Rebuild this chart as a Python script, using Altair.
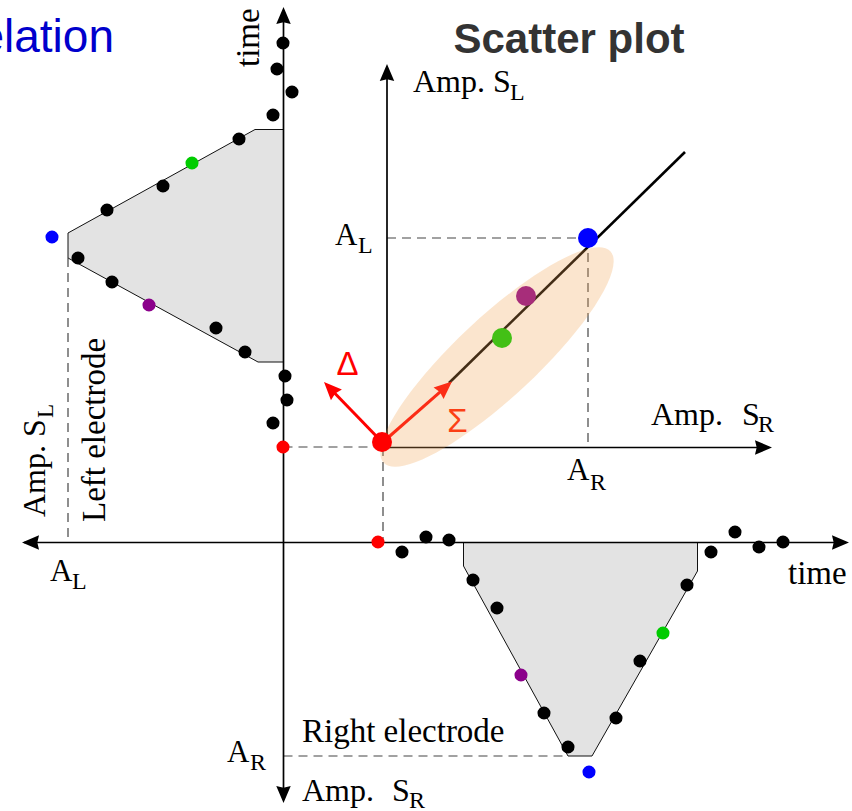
import math
import altair as alt
import pandas as pd

W, H = 852, 811

# ---------------------------------------------------------------------------
# Diagram frame: x to the right, y downward (same units on both axes)
# ---------------------------------------------------------------------------

# Left electrode: time runs up the vertical axis, amplitude S_L grows to the left
left_x = [283, 277, 292, 273, 239, 192, 163, 107, 52, 78, 112, 149, 216, 245, 285, 287, 273, 283]
left_y = [43, 69, 92, 115, 139, 163, 186, 210, 237, 258, 282, 305, 328, 352, 376, 400, 423, 447]
left_kind = ["k", "k", "k", "k", "k", "g", "k", "k", "b", "k", "k", "p", "k", "k", "k", "k", "k", "r"]

# Right electrode: time runs along the horizontal axis, amplitude S_R grows downward
right_x = [378, 402, 426, 449, 473, 497, 521, 544, 568, 589, 616, 640, 663, 687, 711, 735, 759, 783]
right_y = [542, 552, 537, 540, 580, 608, 675, 713, 747, 772, 718, 661, 633, 585, 552, 532, 547, 542]
right_kind = ["r", "k", "k", "k", "k", "k", "p", "k", "k", "b", "k", "k", "g", "k", "k", "k", "k", "k"]

# Envelopes of the two pulses (grey shaded regions)
left_env_x = [283.5, 255, 68, 68, 258, 283.5]
left_env_y = [129.5, 129.5, 233, 258, 362, 362]
right_env_x = [463.5, 463.5, 568, 592, 697.5, 697.5]
right_env_y = [542.5, 566, 756, 756, 571, 542.5]

# Scatter plot of S_L against S_R
sc_x = [382, 526, 502, 588]
sc_y = [442, 296, 338, 238]
sc_kind = ["r", "p", "g", "b"]

# Correlation ellipse (centre) and regression line
ell_x, ell_y = [497], [357]
reg_x, reg_y, reg_x2, reg_y2 = [449], [383], [685], [152]

# Principal directions from the origin of the scatter plot
arrow_name = ["Σ", "Δ"]
arrow_x0 = [383, 382]
arrow_y0 = [442, 442]
arrow_x1 = [452, 324]
arrow_y1 = [381.5, 382]

# Axis lines (x0, y0) -> (x1, y1)
axis_x0 = [283.5, 24, 387, 387]
axis_y0 = [10, 542.5, 447.5, 447.5]
axis_x1 = [283.5, 846, 387, 769]
axis_y1 = [800, 542.5, 68, 447.5]

# Arrowheads: tip position and the point the arrow comes from
tip_x = [283.5, 283.5, 22, 849, 387, 772]
tip_y = [7, 803, 542.5, 542.5, 64, 447.5]
from_x = [283.5, 283.5, 846, 24, 387, 387]
from_y = [800, 10, 542.5, 542.5, 447.5, 447.5]

# Dashed guide lines
dash_x0 = [387, 588, 283.5, 383, 68, 283.5]
dash_y0 = [238, 238, 447, 447, 258, 756]
dash_x1 = [588, 588, 382, 383, 68, 568]
dash_y1 = [238, 447, 447, 540, 542, 756]

# Serif labels
lab_text = ["time", "Amp. S", "L", "Left electrode",
            "Amp. S", "L", "A", "L",
            "Amp.", "S", "R", "A", "R",
            "A", "L", "time", "Right electrode",
            "A", "R", "Amp.", "S", "R"]
lab_x = [259, 45, 53, 105,
         413, 510, 335, 358,
         651, 742, 758, 567, 590,
         50, 72, 788, 302,
         227, 250, 302, 392, 409]
lab_y = [67, 517, 418, 522,
         92, 100, 245, 253,
         425, 425, 432, 480, 490,
         581, 589, 584, 742,
         762, 770, 801, 801, 808]
lab_size = [33, 32, 23, 33,
            32, 24, 31, 24,
            32, 32, 24, 31, 24,
            31, 24, 33, 33,
            31, 24, 32, 32, 24]
lab_angle = [270, 270, 270, 270,
             0, 0, 0, 0,
             0, 0, 0, 0, 0,
             0, 0, 0, 0,
             0, 0, 0, 0, 0]

KIND_DOMAIN = ["k", "r", "g", "b", "p"]
KIND_RANGE = ["#000000", "#ff0000", "#00cc00", "#0000ff", "#8b008b"]

ARROW_HEAD = "M0,0L0.85,2L0,1.8L-0.85,2Z"
ELLIPSE = "M-1,0A1,0.26 0 1,1 1,0A1,0.26 0 1,1 -1,0Z"

xs = alt.Scale(domain=[0, W], nice=False, zero=False)
ys = alt.Scale(domain=[0, H], nice=False, zero=False, reverse=True)
X = alt.X("x:Q", scale=xs, axis=None)
Y = alt.Y("y:Q", scale=ys, axis=None)
kind_color = alt.Color("kind:N", scale=alt.Scale(domain=KIND_DOMAIN, range=KIND_RANGE), legend=None)


def heading(x0, y0, x1, y1):
    """Clockwise angle from 'up' of the direction (x0, y0) -> (x1, y1)."""
    return math.degrees(math.atan2(x1 - x0, -(y1 - y0))) % 360


# ---- grey envelopes
left_fill = alt.Chart(pd.DataFrame({"y": left_env_y, "x": left_env_x, "x2": [283.5] * len(left_env_x)})).mark_area(
    orient="horizontal", color="#e3e3e3", opacity=1
).encode(y=Y, x=X, x2="x2:Q")

right_fill = alt.Chart(pd.DataFrame({"x": right_env_x, "y": right_env_y, "y2": [542.5] * len(right_env_x)})).mark_area(
    orient="vertical", color="#e3e3e3", opacity=1
).encode(x=X, y=Y, y2="y2:Q")

env = pd.concat([
    pd.DataFrame({"x": left_env_x, "y": left_env_y, "poly": "L", "i": range(len(left_env_x))}),
    pd.DataFrame({"x": right_env_x, "y": right_env_y, "poly": "R", "i": range(len(right_env_x))}),
])
env_outline = alt.Chart(env).mark_line(color="#111111", strokeWidth=1).encode(
    x=X, y=Y, detail="poly:N", order="i:Q"
)

# ---- dashed guides
dashes = alt.Chart(pd.DataFrame({"x": dash_x0, "y": dash_y0, "x2": dash_x1, "y2": dash_y1})).mark_rule(
    color="#444444", strokeWidth=1.2, strokeDash=[9, 6]
).encode(x=X, y=Y, x2="x2:Q", y2="y2:Q")

# ---- axes with arrowheads
axes_lines = alt.Chart(pd.DataFrame({"x": axis_x0, "y": axis_y0, "x2": axis_x1, "y2": axis_y1})).mark_rule(
    color="black", strokeWidth=1.7
).encode(x=X, y=Y, x2="x2:Q", y2="y2:Q")

heads_df = pd.DataFrame({
    "x": tip_x, "y": tip_y,
    "ang": [heading(a, b, c, d) for a, b, c, d in zip(from_x, from_y, tip_x, tip_y)],
})
axes_heads = alt.Chart(heads_df).mark_point(
    shape=ARROW_HEAD, filled=True, size=290, color="black", opacity=1, strokeWidth=0
).encode(x=X, y=Y, angle=alt.Angle("ang:Q", scale=None))

# ---- regression line
reg = alt.Chart(pd.DataFrame({"x": reg_x, "y": reg_y, "x2": reg_x2, "y2": reg_y2})).mark_rule(
    color="black", strokeWidth=2.6
).encode(x=X, y=Y, x2="x2:Q", y2="y2:Q")

# ---- Σ / Δ arrows
shaft_rows = []
for name, a, b, c, d in zip(arrow_name, arrow_x0, arrow_y0, arrow_x1, arrow_y1):
    L = math.hypot(c - a, d - b)
    k = (L - 10) / L
    shaft_rows.append({"x": a, "y": b, "x2": a + (c - a) * k, "y2": b + (d - b) * k, "name": name})
shafts = alt.Chart(pd.DataFrame(shaft_rows)).mark_rule(color="#ff0000", strokeWidth=3).encode(
    x=X, y=Y, x2="x2:Q", y2="y2:Q"
)
arrow_heads = alt.Chart(pd.DataFrame({
    "x": arrow_x1, "y": arrow_y1,
    "ang": [heading(a, b, c, d) for a, b, c, d in zip(arrow_x0, arrow_y0, arrow_x1, arrow_y1)],
})).mark_point(shape=ARROW_HEAD, filled=True, size=320, color="#ff0000", opacity=1, strokeWidth=0).encode(
    x=X, y=Y, angle=alt.Angle("ang:Q", scale=None)
)

# ---- electrode samples
samples = pd.concat([
    pd.DataFrame({"x": left_x, "y": left_y, "kind": left_kind}),
    pd.DataFrame({"x": right_x, "y": right_y, "kind": right_kind}),
])
sample_dots = alt.Chart(samples).mark_circle(size=170, opacity=1).encode(x=X, y=Y, color=kind_color)

# ---- scatter points (intermediate samples lie under the ellipse, extremes on top)
sc = pd.DataFrame({"x": sc_x, "y": sc_y, "kind": sc_kind})
sc_under = alt.Chart(sc).transform_filter(
    alt.FieldOneOfPredicate(field="kind", oneOf=["p", "g"])
).mark_circle(size=400, opacity=1).encode(x=X, y=Y, color=kind_color)
sc_over = alt.Chart(sc).transform_filter(
    alt.FieldOneOfPredicate(field="kind", oneOf=["r", "b"])
).mark_circle(size=400, opacity=1).encode(x=X, y=Y, color=kind_color)

sigma_text = alt.Chart(pd.DataFrame({"x": [457.5], "y": [432], "t": ["Σ"]})).mark_text(
    font="Liberation Sans", fontSize=33, color="#ff1a00", align="center", baseline="alphabetic"
).encode(x=X, y=Y, text="t:N")
delta_text = alt.Chart(pd.DataFrame({"x": [347.5], "y": [375], "t": ["Δ"]})).mark_text(
    font="Liberation Sans", fontSize=33, color="#ff0000", align="center", baseline="alphabetic"
).encode(x=X, y=Y, text="t:N")

ellipse = alt.Chart(pd.DataFrame({"x": ell_x, "y": ell_y})).mark_point(
    shape=ELLIPSE, filled=True, size=310 ** 2, angle=317, color="#f0a050", opacity=0.28, strokeWidth=0
).encode(x=X, y=Y)

# ---- labels
labels = alt.Chart(pd.DataFrame({
    "x": lab_x, "y": lab_y, "t": lab_text, "s": lab_size, "a": lab_angle,
})).mark_text(font="Liberation Serif", color="black", align="left", baseline="alphabetic").encode(
    x=X, y=Y, text="t:N", size=alt.Size("s:Q", scale=None), angle=alt.Angle("a:Q", scale=None)
)

title_left = alt.Chart(pd.DataFrame({"x": [114], "y": [52], "t": ["Correlation"]})).mark_text(
    font="Liberation Sans", fontSize=46, color="#0000cc", align="right", baseline="alphabetic", clip=True
).encode(x=X, y=Y, text="t:N")
title_right = alt.Chart(pd.DataFrame({"x": [569], "y": [53], "t": ["Scatter plot"]})).mark_text(
    font="Liberation Sans", fontSize=42, fontWeight="bold", color="#333333", align="center", baseline="alphabetic"
).encode(x=X, y=Y, text="t:N")

chart = alt.layer(
    left_fill, right_fill, env_outline, dashes, axes_lines, axes_heads,
    reg, shafts, arrow_heads, sample_dots, sc_under, sigma_text,
    ellipse, sc_over, delta_text, labels, title_left, title_right,
).properties(
    width=W, height=H, padding=0, autosize=alt.AutoSizeParams(type="none"), background="white"
).configure_view(stroke=None)

chart.save("out.html", embed_options={"renderer": "svg", "actions": False})
